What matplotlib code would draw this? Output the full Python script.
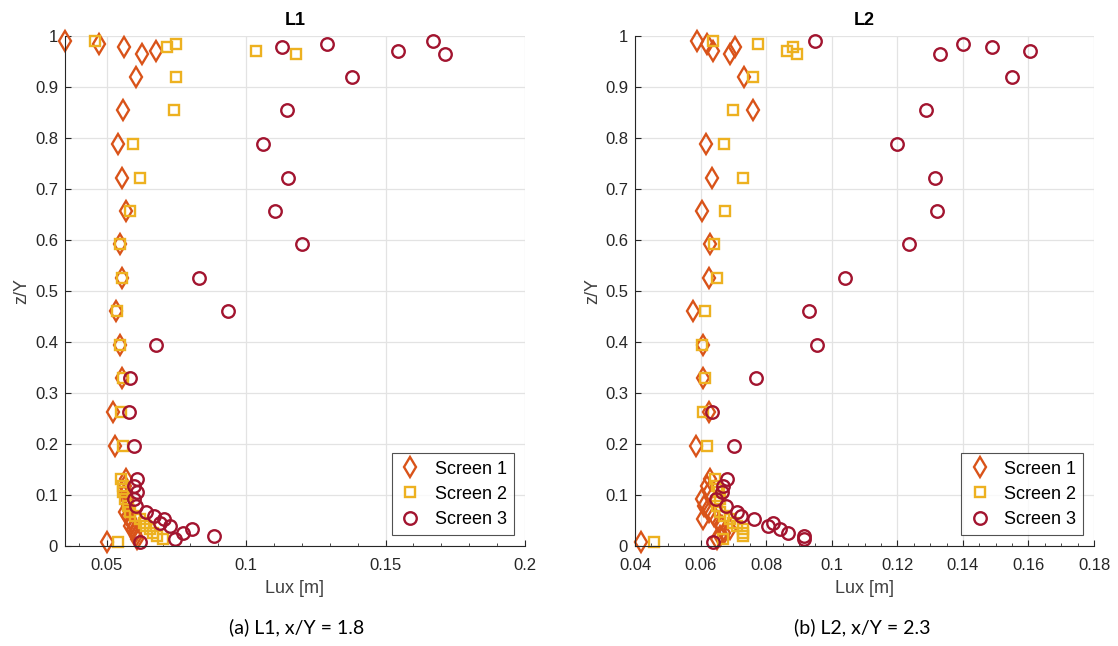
import matplotlib.pyplot as plt
import numpy as np
from matplotlib.ticker import MultipleLocator

plt.rcParams['font.family'] = ['Liberation Sans', 'DejaVu Sans']

# z/Y levels shared by all screens
z = [0.991, 0.984, 0.979, 0.971, 0.965, 0.919, 0.855, 0.788, 0.722, 0.657,
     0.592, 0.525, 0.460, 0.394, 0.329, 0.262, 0.197,
     0.132, 0.118, 0.105, 0.092, 0.079, 0.066, 0.059, 0.053, 0.046,
     0.040, 0.033, 0.026, 0.020, 0.013, 0.007]

# L1, x/Y = 1.8
l1_s1 = [0.0350, 0.0472, 0.0563, 0.0675, 0.0628, 0.0604, 0.0558, 0.0542, 0.0554, 0.0568,
         0.0548, 0.0554, 0.0532, 0.0549, 0.0556, 0.0524, 0.0531,
         0.0570, 0.0565, 0.0568, 0.0572, 0.0575, 0.0565, 0.0575, 0.0585, 0.0590,
         0.0585, 0.0595, 0.0600, 0.0605, 0.0610, 0.0500]
l1_s2 = [0.0458, 0.0747, 0.0716, 0.1035, 0.1180, 0.0748, 0.0740, 0.0593, 0.0621, 0.0584,
         0.0549, 0.0556, 0.0536, 0.0546, 0.0560, 0.0551, 0.0560,
         0.0552, 0.0560, 0.0558, 0.0565, 0.0575, 0.0585, 0.0600, 0.0620, 0.0635,
         0.0640, 0.0655, 0.0665, 0.0680, 0.0700, 0.0542]
l1_s3 = [0.1670, 0.1289, 0.1130, 0.1543, 0.1714, 0.1381, 0.1145, 0.1062, 0.1149, 0.1104,
         0.1201, 0.0830, 0.0936, 0.0675, 0.0584, 0.0578, 0.0596,
         0.0608, 0.0598, 0.0608, 0.0598, 0.0605, 0.0639, 0.0668, 0.0704, 0.0690,
         0.0728, 0.0806, 0.0773, 0.0883, 0.0746, 0.0620]

# L2, x/Y = 2.3
l2_s1 = [0.0590, 0.0620, 0.0704, 0.0639, 0.0690, 0.0733, 0.0761, 0.0616, 0.0634, 0.0605,
         0.0629, 0.0626, 0.0577, 0.0608, 0.0608, 0.0627, 0.0586,
         0.0630, 0.0620, 0.0625, 0.0603, 0.0610, 0.0625, 0.0640, 0.0606, 0.0655,
         0.0665, 0.0690, 0.0670, 0.0660, 0.0650, 0.0417]
l2_s2 = [0.0639, 0.0774, 0.0881, 0.0862, 0.0895, 0.0761, 0.0700, 0.0670, 0.0730, 0.0673,
         0.0640, 0.0649, 0.0613, 0.0605, 0.0613, 0.0608, 0.0619,
         0.0645, 0.0650, 0.0655, 0.0660, 0.0650, 0.0660, 0.0670, 0.0690, 0.0700,
         0.0710, 0.0728, 0.0728, 0.0728, 0.0668, 0.0459]
l2_s3 = [0.0949, 0.1400, 0.1488, 0.1604, 0.1330, 0.1550, 0.1286, 0.1198, 0.1315, 0.1320,
         0.1235, 0.1040, 0.0931, 0.0955, 0.0768, 0.0635, 0.0703,
         0.0680, 0.0667, 0.0664, 0.0647, 0.0677, 0.0710, 0.0722, 0.0764, 0.0822,
         0.0805, 0.0842, 0.0867, 0.0915, 0.0915, 0.0639]

labels = ['Screen 1', 'Screen 2', 'Screen 3']
colors = ['#D95319', '#EDB120', '#A2142F']
markers = ['d', 's', 'o']
sizes = [10, 7, 9]

yticks = np.round(np.arange(0, 1.01, 0.1), 1)
ylabels = ['0'] + ['%.1f' % v for v in yticks[1:-1]] + ['1']

fig = plt.figure(figsize=(11.18, 6.46), dpi=100)
ax1 = fig.add_axes([0.0581, 0.1548, 0.4114, 0.7895])
ax2 = fig.add_axes([0.568, 0.1548, 0.4106, 0.7895])


def draw(ax, series, title, xlim, xticks, xlabels, minor):
    for xs, lab, c, m, s in zip(series, labels, colors, markers, sizes):
        ax.plot(xs, z, linestyle='none', marker=m, markersize=s,
                markerfacecolor='none', markeredgecolor=c, markeredgewidth=1.7,
                label=lab, clip_on=False)
    ax.set_xlim(xlim)
    ax.set_ylim(0, 1)
    ax.set_xticks(xticks)
    ax.set_xticklabels(xlabels)
    ax.xaxis.set_minor_locator(MultipleLocator(minor))
    ax.set_yticks(yticks)
    ax.set_yticklabels(ylabels)
    ax.grid(True, which='major', color='#e3e3e3', linewidth=0.9)
    ax.set_axisbelow(True)
    for sp in ['top', 'right']:
        ax.spines[sp].set_visible(False)
    for sp in ['left', 'bottom']:
        ax.spines[sp].set_color('#262626')
    ax.tick_params(which='both', direction='in', colors='#262626', labelsize=12)
    ax.tick_params(axis='x', which='major', pad=9)
    ax.tick_params(axis='y', which='major', pad=5)
    ax.tick_params(which='major', length=4)
    ax.tick_params(which='minor', length=2.5)
    ax.set_title(title, fontweight='bold', fontsize=13, pad=8)
    ax.set_xlabel('Lux [m]', fontsize=13, color='#404040', labelpad=5)
    ax.set_ylabel('z/Y', fontsize=13, color='#404040', labelpad=3)
    leg = ax.legend(loc='lower right', fontsize=13, fancybox=False,
                    edgecolor='#262626', borderaxespad=0.6, handletextpad=0.7,
                    borderpad=0.4, labelspacing=0.45, handlelength=1.3)
    leg.get_frame().set_linewidth(0.8)


draw(ax1, [l1_s1, l1_s2, l1_s3], 'L1', (0.035, 0.2),
     [0.05, 0.1, 0.15, 0.2], ['0.05', '0.1', '0.15', '0.2'], 0.01)
draw(ax2, [l2_s1, l2_s2, l2_s3], 'L2', (0.04, 0.18),
     np.arange(0.04, 0.181, 0.02),
     ['0.04', '0.06', '0.08', '0.1', '0.12', '0.14', '0.16', '0.18'], 0.005)

fig.text(0.265, 0.02, '(a) L1, x/Y = 1.8', ha='center', fontsize=14, family='Lato')
fig.text(0.771, 0.02, '(b) L2, x/Y = 2.3', ha='center', fontsize=14, family='Lato')

fig.savefig('out.png', dpi=100)
